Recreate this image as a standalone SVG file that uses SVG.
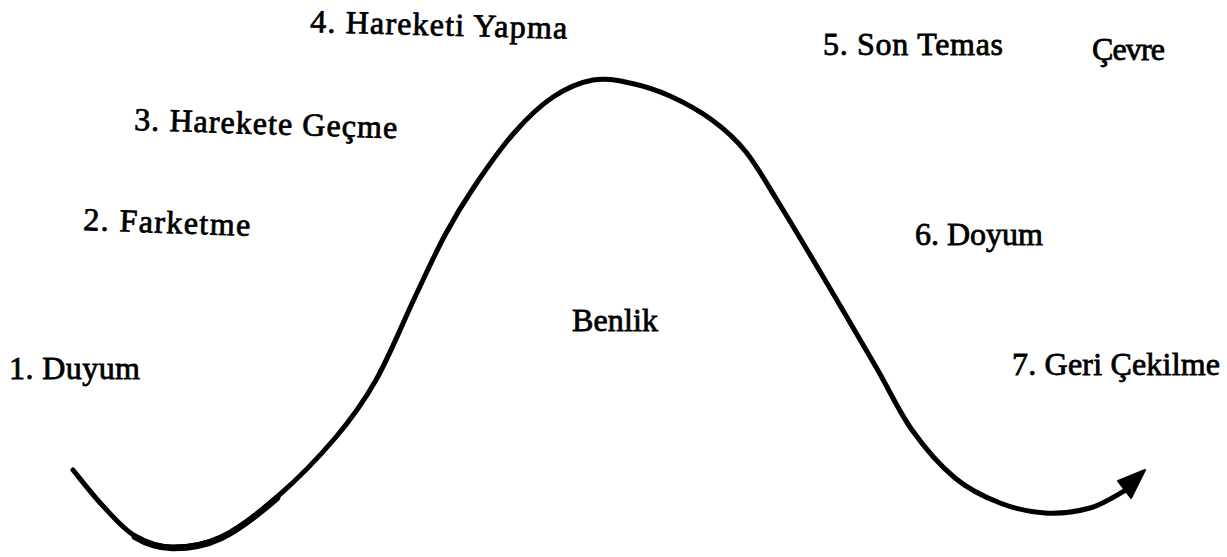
<svg xmlns="http://www.w3.org/2000/svg" width="1227" height="557" viewBox="0 0 1227 557">
  <style>
    .lbl { font-family: "Liberation Serif", "Times New Roman", serif; font-size: 32px; fill: #000; stroke: #000; stroke-width: 0.8px; }
    .curve { fill: none; stroke: #000; stroke-width: 5; stroke-linecap: round; stroke-linejoin: round; }
    .thick { fill: none; stroke: #000; stroke-width: 6.5; stroke-linecap: round; }
  </style>
  <rect width="1227" height="557" fill="#fff"/>
  <g id="connectors">
    <path class="curve" d="M73,470 C78,476 92.7,495 103,506 C113.3,517 123.5,529.2 135,536 C146.5,542.8 157.7,546.8 172,547 C186.3,547.2 203.5,545.3 221,537 C238.5,528.7 257.8,513.7 277,497 C296.2,480.3 319.5,456.5 336,437 C352.5,417.5 362.8,403.3 376,380 C389.2,356.7 403.5,321.2 415,297 C426.5,272.8 435.2,253.3 445,235 C454.8,216.7 462.5,204 474,187 C485.5,170 500.8,148 514,133 C527.2,118 539.8,105.8 553,97 C566.2,88.2 580.2,82.3 593,80 C605.8,77.7 617.2,80.3 630,83 C642.8,85.7 656.3,89.8 670,96 C683.7,102.2 699.3,110.7 712,120 C724.7,129.3 734.7,137.8 746,152 C757.3,166.2 766.3,182.8 780,205 C793.7,227.2 812,258 828,285 C844,312 862,342.8 876,367 C890,391.2 898.8,411.5 912,430 C925.2,448.5 940.3,465.8 955,478 C969.7,490.2 985,497.2 1000,503 C1015,508.8 1030,512.2 1045,513 C1060,513.8 1076.5,511.8 1090,508 C1103.5,504.2 1120,493 1126,490"/>
    <path class="thick" d="M135,537 C146.5,543.8 157.7,547.8 172,548 C186.3,548.2 203.5,546.3 221,538 C238.5,529.7 257.8,514.7 277,498"/>
    <polygon points="1145,470 1118,481 1131,498" fill="#000" stroke="#000" stroke-width="2" stroke-linejoin="round"/>
  </g>
  <g id="node-1"><text class="lbl" x="9" y="379" textLength="131" lengthAdjust="spacing">1. Duyum</text></g>
  <g id="node-2"><text class="lbl" x="83" y="230" transform="rotate(2 83 230)" textLength="167" lengthAdjust="spacing">2. Farketme</text></g>
  <g id="node-3"><text class="lbl" x="134" y="130" transform="rotate(1.8 134 130)" textLength="263" lengthAdjust="spacing">3. Harekete Geçme</text></g>
  <g id="node-4"><text class="lbl" x="310" y="32" transform="rotate(1.5 310 32)" textLength="257" lengthAdjust="spacing">4. Hareketi Yapma</text></g>
  <g id="node-5"><text class="lbl" x="823" y="55" textLength="180" lengthAdjust="spacing">5. Son Temas</text></g>
  <g id="node-cevre"><text class="lbl" x="1092" y="60" textLength="73" lengthAdjust="spacing">Çevre</text></g>
  <g id="node-6"><text class="lbl" x="915" y="245" textLength="128" lengthAdjust="spacing">6. Doyum</text></g>
  <g id="node-7"><text class="lbl" x="1012" y="375" textLength="208" lengthAdjust="spacing">7. Geri Çekilme</text></g>
  <g id="node-benlik"><text class="lbl" x="572" y="331" textLength="86" lengthAdjust="spacing">Benlik</text></g>
</svg>
